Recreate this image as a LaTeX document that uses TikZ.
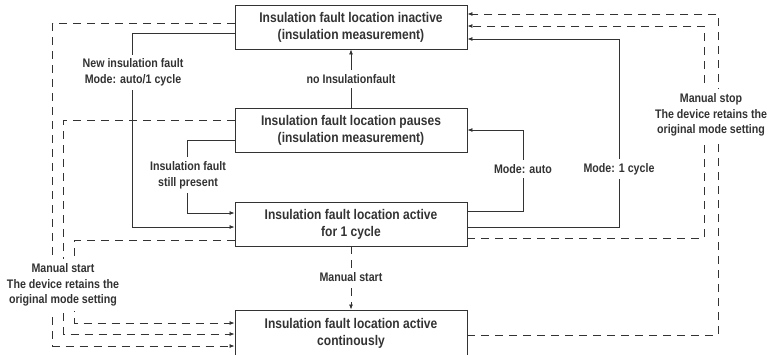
\documentclass[tikz,border=0pt]{standalone}
\usepackage{fontspec}
\setmainfont{Liberation Sans}[FakeStretch=0.86]
\usepackage{xcolor}
\usepackage{tikz}
\usetikzlibrary{arrows.meta}
\definecolor{ink}{HTML}{333333}

\begin{document}
\begin{tikzpicture}[x=1pt, y=-1pt,
    state/.style={draw=ink, line width=0.9pt, minimum width=232pt, minimum height=44pt,
        align=center, text=ink, font=\fontsize{14}{17}\selectfont\bfseries, inner sep=0pt},
    flow/.style={draw=ink, line width=0.8pt, -{Latex[length=5pt,width=4pt]}},
    manual/.style={flow, dash pattern=on 8pt off 6pt},
    note/.style={fill=white, align=center, text=ink, inner xsep=2pt, inner ysep=4pt,
        font=\fontsize{12.4}{15.8}\selectfont\bfseries}]

    % Fix the frame
    \clip (0,0) rectangle (771,354);

    % Draw the states
    \node[state] (inactive) at (351,27) {Insulation fault location inactive\\(insulation measurement)};
    \node[state] (pauses) at (351,130) {Insulation fault location pauses\\(insulation measurement)};
    \node[state] (cycle) at (351,224) {Insulation fault location active\\for 1 cycle};
    \node[state, minimum height=46pt] (cont) at (351,333) {Insulation fault location active\\continously};

    % Draw the solid transitions
    \draw[flow] ([yshift=-6pt]inactive.west) -- ++(-102,0) |- ([yshift=-3pt]cycle.west);
    \draw[flow] ([yshift=-10pt]pauses.west) -- ++(-47,0) |- ([yshift=11pt]cycle.west);
    \draw[flow] (pauses.north) -- (inactive.south);
    \draw[flow] ([yshift=13pt]cycle.east) -- ++(56,0) |- (pauses.east);
    \draw[flow] ([yshift=-3pt]cycle.east) -- ++(152,0) |- ([yshift=-12pt]inactive.east);

    % Draw the manual (dashed) transitions
    \draw[manual] ([yshift=4pt]inactive.west) -- ++(-182,0) |- ([yshift=-13pt]cont.west);
    \draw[manual] ([yshift=10pt]pauses.west) -- ++(-171,0) |- ([yshift=-1pt]cont.west);
    \draw[manual] ([yshift=-16pt]cycle.west) -- ++(-160,0) |- ([yshift=10pt]cont.west);
    \draw[manual] (cycle.south) -- (cont.north);
    \draw[manual] ([yshift=-14pt]cycle.east) -- ++(237,0) |- ([yshift=1pt]inactive.east);
    \draw[manual] ([yshift=-2pt]cont.east) -- ++(251,0) |- ([yshift=13pt]inactive.east);

    % Label the transitions
    \node[note] (newfault) at (133,72.5) {New insulation fault\\Mode: auto/1 cycle};
    \node[note] (present) at (188,175) {Insulation fault\\still present};
    \node[note] (nofault) at (351,79) {no Insulationfault};
    \node[note] (auto) at (523,169) {Mode: auto};
    \node[note] (onecycle) at (619,169) {Mode: 1 cycle};
    \node[note] (startleft) at (63,285) {Manual start\\The device retains the\\original mode setting};
    \node[note] (startmid) at (351,277) {Manual start};
    \node[note] (stop) at (711,115) {Manual stop\\The device retains the\\original mode setting};
\end{tikzpicture}
\end{document}
